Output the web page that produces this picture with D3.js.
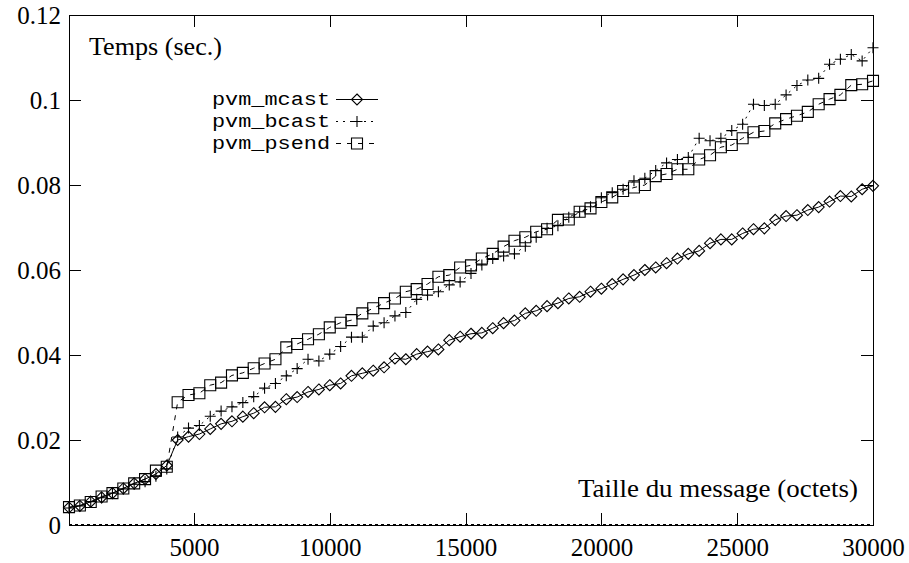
<!DOCTYPE html>
<html>
<head>
<meta charset="utf-8">
<script src="https://cdn.jsdelivr.net/npm/d3@7/dist/d3.min.js"></script>
<style>
  body { margin: 0; background: #fff; }
  svg { display: block; }
</style>
</head>
<body>
<svg id="chart" width="909" height="563"></svg>
<script>
// Message sizes (bytes)
const sizes = [400,800,1200,1600,2000,2400,2800,3200,3600,4000,4400,4800,5200,5600,6000,
  6400,6800,7200,7600,8000,8400,8800,9200,9600,10000,10400,10800,11200,11600,12000,
  12400,12800,13200,13600,14000,14400,14800,15200,15600,16000,16400,16800,17200,17600,18000,
  18400,18800,19200,19600,20000,20400,20800,21200,21600,22000,22400,22800,23200,23600,24000,
  24400,24800,25200,25600,26000,26400,26800,27200,27600,28000,28400,28800,29200,29600,30000];

// Times (seconds)
const mcast = [0.0041,0.0045,0.0055,0.0065,0.0075,0.0086,0.0098,0.0108,0.0120,0.0140,
  0.0200,0.0208,0.0214,0.0226,0.0238,0.0244,0.0255,0.0263,0.0277,0.0278,
  0.0296,0.0301,0.0313,0.0319,0.0329,0.0333,0.0351,0.0357,0.0363,0.0371,
  0.0392,0.0390,0.0402,0.0408,0.0413,0.0435,0.0443,0.0450,0.0452,0.0463,
  0.0475,0.0481,0.0498,0.0504,0.0515,0.0522,0.0533,0.0537,0.0549,0.0556,
  0.0567,0.0578,0.0588,0.0600,0.0606,0.0616,0.0627,0.0638,0.0645,0.0663,
  0.0672,0.0672,0.0686,0.0696,0.0698,0.0718,0.0727,0.0729,0.0741,0.0748,
  0.0761,0.0774,0.0773,0.0790,0.0798];

const bcast = [0.0040,0.0045,0.0055,0.0064,0.0075,0.0085,0.0096,0.0102,0.0115,0.0132,
  0.0207,0.0228,0.0234,0.0256,0.0268,0.0278,0.0288,0.0302,0.0322,0.0333,
  0.0351,0.0368,0.0390,0.0386,0.0402,0.0420,0.0442,0.0442,0.0468,0.0476,
  0.0492,0.0500,0.0531,0.0541,0.0549,0.0565,0.0572,0.0592,0.0612,0.0627,
  0.0633,0.0638,0.0656,0.0677,0.0698,0.0704,0.0724,0.0737,0.0749,0.0770,
  0.0782,0.0790,0.0810,0.0816,0.0834,0.0852,0.0860,0.0865,0.0910,0.0904,
  0.0910,0.0928,0.0943,0.0990,0.0987,0.0990,0.1012,0.1034,0.1047,0.1051,
  0.1084,0.1096,0.1107,0.1092,0.1123];

const psend = [0.0042,0.0046,0.0054,0.0067,0.0075,0.0086,0.0098,0.0108,0.0128,0.0137,
  0.0289,0.0306,0.0310,0.0329,0.0335,0.0352,0.0358,0.0369,0.0380,0.0390,
  0.0418,0.0426,0.0437,0.0449,0.0465,0.0476,0.0482,0.0498,0.0510,0.0522,
  0.0533,0.0549,0.0555,0.0567,0.0584,0.0588,0.0606,0.0611,0.0627,0.0638,
  0.0655,0.0669,0.0677,0.0690,0.0696,0.0718,0.0719,0.0737,0.0745,0.0760,
  0.0771,0.0786,0.0794,0.0800,0.0821,0.0826,0.0837,0.0837,0.0860,0.0870,
  0.0889,0.0894,0.0910,0.0924,0.0927,0.0945,0.0955,0.0963,0.0972,0.0990,
  0.1002,0.1012,0.1035,0.1037,0.1045];

const seriesNames = ["pvm_mcast", "pvm_bcast", "pvm_psend"];
const xTicks = [5000, 10000, 15000, 20000, 25000, 30000];
const yTicks = [0, 0.02, 0.04, 0.06, 0.08, 0.1, 0.12];
const yTickLabels = ["0", "0.02", "0.04", "0.06", "0.08", "0.1", "0.12"];
const yTitle = "Temps (sec.)";
const xTitle = "Taille du message (octets)";

const svg = d3.select("#chart");
const L = 69, R = 873, T = 15, B = 525;

const x = d3.scaleLinear().domain([400, 30000]).range([L, R]);
const y = d3.scaleLinear().domain([0, 0.12]).range([B, T]);

const serif = "'Liberation Serif', 'Times New Roman', serif";
const mono = "'Liberation Mono', 'DejaVu Sans Mono', monospace";

// Axes: ticks point inward on all four sides
const yLabel = d => yTickLabels[yTicks.indexOf(d)];
const axB = svg.append("g").attr("transform", `translate(0,${B})`)
  .call(d3.axisBottom(x).tickValues(xTicks).tickFormat(d3.format("d")).tickSize(-12).tickPadding(13));
const axL = svg.append("g").attr("transform", `translate(${L},0)`)
  .call(d3.axisLeft(y).tickValues(yTicks).tickFormat(yLabel).tickSize(-12).tickPadding(8));
const axT = svg.append("g").attr("transform", `translate(0,${T})`)
  .call(d3.axisTop(x).tickValues(xTicks).tickFormat("").tickSize(-12));
const axR = svg.append("g").attr("transform", `translate(${R},0)`)
  .call(d3.axisRight(y).tickValues(yTicks).tickFormat("").tickSize(-12));

[axB, axL, axT, axR].forEach(g => {
  g.select(".domain").remove();
  g.selectAll(".tick line").attr("stroke", "#000").attr("stroke-width", 1)
    .attr("shape-rendering", "crispEdges");
  g.selectAll(".tick text").attr("font-family", serif).attr("font-size", 25)
    .attr("fill", "#000");
});

// Frame
svg.append("rect")
  .attr("x", L).attr("y", T).attr("width", R - L).attr("height", B - T)
  .attr("fill", "none").attr("stroke", "#000").attr("stroke-width", 1)
  .attr("shape-rendering", "crispEdges");

// Zero axis drawn dotted along the bottom edge
svg.append("line")
  .attr("x1", L).attr("x2", R).attr("y1", y(0) - 1).attr("y2", y(0) - 1)
  .attr("stroke", "#000").attr("stroke-width", 1)
  .attr("stroke-dasharray", "3,3").attr("shape-rendering", "crispEdges");

// Axis titles
svg.append("text").attr("x", 89).attr("y", 55)
  .attr("font-family", serif).attr("font-size", 25).attr("fill", "#000")
  .attr("textLength", 133).attr("lengthAdjust", "spacingAndGlyphs")
  .text(yTitle);
svg.append("text").attr("x", 578).attr("y", 497)
  .attr("font-family", serif).attr("font-size", 25).attr("fill", "#000")
  .attr("textLength", 280).attr("lengthAdjust", "spacingAndGlyphs")
  .text(xTitle);

// Marker shapes
const r = 5.5;
const marker = {
  diamond: (cx, cy) => `M${cx},${cy - r}L${cx + r},${cy}L${cx},${cy + r}L${cx - r},${cy}Z`,
  plus: (cx, cy) => `M${cx - r},${cy}H${cx + r}M${cx},${cy - r}V${cy + r}`,
  square: (cx, cy) => `M${cx - r},${cy - r}H${cx + r}V${cy + r}H${cx - r}Z`
};

const series = [
  { name: seriesNames[0], values: mcast, dash: null, shape: "diamond" },
  { name: seriesNames[1], values: bcast, dash: "2,5", shape: "plus" },
  { name: seriesNames[2], values: psend, dash: "5,6", shape: "square" }
];

const line = d3.line().x(d => x(d[0])).y(d => y(d[1]));

series.forEach(s => {
  const pts = sizes.map((sz, i) => [sz, s.values[i]]);
  const g = svg.append("g");
  g.append("path").datum(pts).attr("d", line)
    .attr("fill", "none").attr("stroke", "#000").attr("stroke-width", 1)
    .attr("stroke-dasharray", s.dash);
  g.selectAll("path.pt").data(pts).join("path").attr("class", "pt")
    .attr("d", d => marker[s.shape](x(d[0]), y(d[1])))
    .attr("fill", "none").attr("stroke", "#000").attr("stroke-width", 1.1);
});

// Legend
const legX = 330, legY0 = 99.5, legDy = 22;
series.forEach((s, i) => {
  const ly = legY0 + i * legDy;
  const g = svg.append("g");
  g.append("text").attr("x", legX - 118).attr("y", ly + 5)
    .attr("font-family", mono).attr("font-size", 19).attr("fill", "#000")
    .attr("textLength", 118).attr("lengthAdjust", "spacingAndGlyphs")
    .text(s.name);
  g.append("line").attr("x1", legX + 6).attr("x2", legX + 48)
    .attr("y1", ly).attr("y2", ly)
    .attr("stroke", "#000").attr("stroke-width", 1).attr("stroke-dasharray", s.dash);
  g.append("path").attr("d", marker[s.shape](legX + 27, ly))
    .attr("fill", "none").attr("stroke", "#000").attr("stroke-width", 1.1);
});
</script>
</body>
</html>
